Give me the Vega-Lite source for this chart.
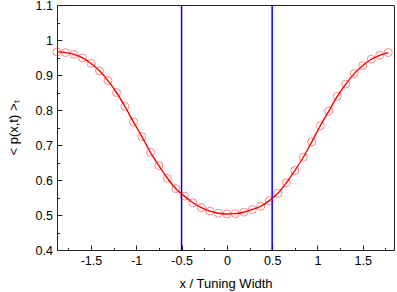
{
  "$schema": "https://vega.github.io/schema/vega-lite/v6.json",
  "width": 337,
  "height": 245,
  "autosize": {"type": "none"},
  "padding": {"left": 57, "top": 5, "right": 3, "bottom": 42},
  "background": "white",
  "config": {
    "view": {"stroke": "#222", "strokeWidth": 1},
    "axis": {
      "labelFont": "Liberation Sans",
      "titleFont": "Liberation Sans",
      "labelFontSize": 12.5,
      "titleFontSize": 13,
      "titleFontWeight": "normal",
      "labelColor": "black",
      "titleColor": "black",
      "domainColor": "#222",
      "tickColor": "#222",
      "grid": false,
      "labelFlush": false
    }
  },
  "resolve": {"axis": {"x": "independent", "y": "independent"}, "scale": {"x": "shared", "y": "shared"}},
  "datasets": {
    "curve": [
      {"x": -1.875, "p": 0.966},
      {"x": -1.78125, "p": 0.964},
      {"x": -1.6875, "p": 0.959},
      {"x": -1.59375, "p": 0.949},
      {"x": -1.5, "p": 0.933},
      {"x": -1.40625, "p": 0.912},
      {"x": -1.3125, "p": 0.884},
      {"x": -1.21875, "p": 0.85},
      {"x": -1.125, "p": 0.81},
      {"x": -1.03125, "p": 0.766},
      {"x": -0.9375, "p": 0.724},
      {"x": -0.84375, "p": 0.679},
      {"x": -0.75, "p": 0.641},
      {"x": -0.65625, "p": 0.605},
      {"x": -0.5625, "p": 0.575},
      {"x": -0.46875, "p": 0.554},
      {"x": -0.375, "p": 0.535},
      {"x": -0.28125, "p": 0.521},
      {"x": -0.1875, "p": 0.511},
      {"x": -0.09375, "p": 0.505},
      {"x": 0, "p": 0.503},
      {"x": 0.09375, "p": 0.504},
      {"x": 0.1875, "p": 0.508},
      {"x": 0.28125, "p": 0.516},
      {"x": 0.375, "p": 0.525},
      {"x": 0.46875, "p": 0.541},
      {"x": 0.5625, "p": 0.562},
      {"x": 0.65625, "p": 0.592},
      {"x": 0.75, "p": 0.627},
      {"x": 0.84375, "p": 0.665},
      {"x": 0.9375, "p": 0.709},
      {"x": 1.03125, "p": 0.755},
      {"x": 1.125, "p": 0.797},
      {"x": 1.21875, "p": 0.839},
      {"x": 1.3125, "p": 0.874},
      {"x": 1.40625, "p": 0.904},
      {"x": 1.5, "p": 0.927},
      {"x": 1.59375, "p": 0.945},
      {"x": 1.6875, "p": 0.956},
      {"x": 1.78125, "p": 0.964}
    ],
    "bounds": [{"x": -0.5}, {"x": 0.5}]
  },
  "layer": [
    {
      "data": {"name": "bounds"},
      "mark": {"type": "rule", "color": "#0000ff", "strokeWidth": 1.5},
      "encoding": {
        "x": {
          "field": "x",
          "type": "quantitative",
          "scale": {"domain": [-1.875, 1.845], "nice": false, "zero": false},
          "axis": {
            "orient": "bottom",
            "title": "x / Tuning Width",
            "values": [-1.5, -1, -0.5, 0, 0.5, 1, 1.5],
            "labelExpr": "replace(format(datum.value, '~g'), '\u2212', '-')",
            "labelOverlap": false,
            "tickSize": -5,
            "labelPadding": 9.5,
            "titlePadding": 10
          }
        }
      }
    },
    {
      "data": {"name": "curve"},
      "mark": {"type": "line", "color": "#ff0000", "strokeWidth": 1.4, "interpolate": "monotone"},
      "encoding": {
        "x": {
          "field": "x",
          "type": "quantitative",
          "axis": {
            "orient": "bottom",
            "title": null,
            "values": [-1.75, -1.25, -0.75, -0.25, 0.25, 0.75, 1.25, 1.75],
            "labels": false,
            "domain": false,
            "tickSize": -2.5
          }
        },
        "y": {
          "field": "p",
          "type": "quantitative",
          "scale": {"domain": [0.4, 1.1], "nice": false, "zero": false},
          "axis": {
            "orient": "left",
            "title": "< p(x,t) >ₜ",
            "values": [0.4, 0.5, 0.6, 0.7, 0.8, 0.9, 1, 1.1],
            "format": "~g",
            "labelOverlap": false,
            "tickSize": -5,
            "labelPadding": 9.5,
            "titlePadding": 15
          }
        }
      }
    },
    {
      "data": {"name": "curve"},
      "mark": {"type": "point", "shape": "circle", "filled": false, "color": "#ff0000", "strokeWidth": 1, "strokeOpacity": 0.65, "size": 64},
      "encoding": {
        "x": {"field": "x", "type": "quantitative", "axis": null},
        "y": {
          "field": "p",
          "type": "quantitative",
          "axis": {
            "orient": "left",
            "title": null,
            "values": [0.45, 0.55, 0.65, 0.75, 0.85, 0.95, 1.05],
            "labels": false,
            "domain": false,
            "tickSize": -2.5
          }
        }
      }
    }
  ]
}
